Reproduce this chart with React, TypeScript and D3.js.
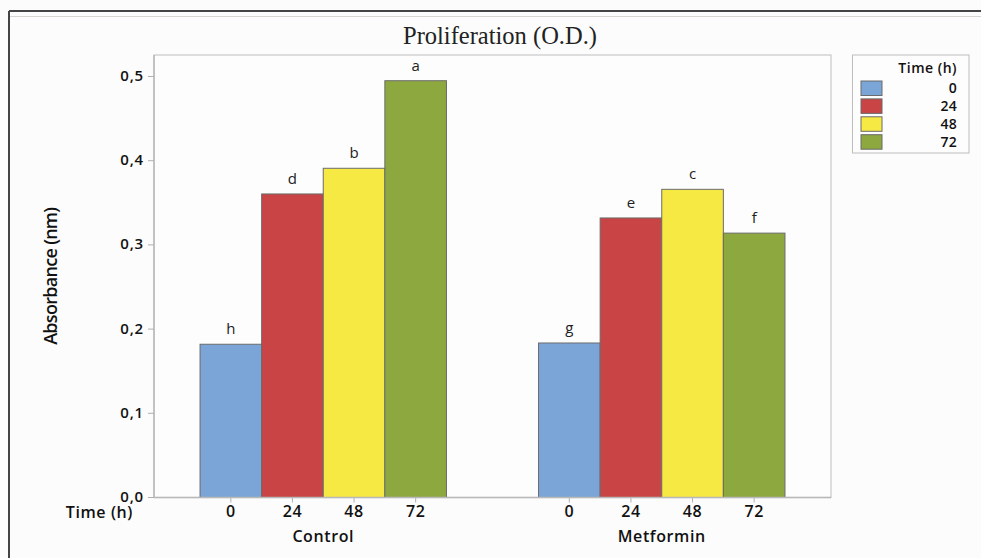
import React from "react";
import * as d3 from "d3";

const groups = ["Control", "Metformin"];
const times = ["0", "24", "48", "72"];
const controlValues = [0.182, 0.3605, 0.391, 0.495];
const metforminValues = [0.1835, 0.332, 0.366, 0.314];
const controlLetters = ["h", "d", "b", "a"];
const metforminLetters = ["g", "e", "c", "f"];
const yTicks = [0, 0.1, 0.2, 0.3, 0.4, 0.5];
const colors = ["#7BA4D7", "#C94444", "#F7E944", "#8CA83E"];

const W = 981;
const H = 558;
const plot = { left: 154, right: 831, top: 55, bottom: 497.5 };
const sansFont = "'Open Sans', 'Noto Sans', sans-serif";

export default function App() {
  const values = [controlValues, metforminValues];
  const letters = [controlLetters, metforminLetters];

  const x0 = d3
    .scaleBand<string>()
    .domain(groups)
    .range([plot.left, plot.right])
    .paddingInner(0.272)
    .paddingOuter(0.136);
  const x1 = d3.scaleBand<string>().domain(times).range([0, x0.bandwidth()]).padding(0);
  const y = d3.scaleLinear().domain([0, 0.5]).range([plot.bottom, plot.bottom - 421]);
  const fmt = (v: number) => d3.format(".1f")(v).replace(".", ",");

  return (
    <svg
      width={W}
      height={H}
      style={{ position: "absolute", left: 0, top: 0, background: "#fcfcfc" }}
    >
      <rect x={0} y={0} width={W} height={H} fill="#fcfcfc" />
      {/* outer frame */}
      <line x1={9} y1={11} x2={W} y2={11} stroke="#444" strokeWidth={2} />
      <line x1={9} y1={11} x2={9} y2={H} stroke="#444" strokeWidth={2} />
      <line x1={10} y1={16.5} x2={W} y2={16.5} stroke="#d8d4d0" strokeWidth={1} />

      {/* title */}
      <text
        x={500}
        y={44}
        textAnchor="middle"
        fontFamily="'Liberation Serif', 'Times New Roman', serif"
        fontSize={24.5}
        fill="#222"
      >
        Proliferation (O.D.)
      </text>

      {/* plot frame */}
      <rect
        x={plot.left}
        y={plot.top}
        width={plot.right - plot.left}
        height={plot.bottom - plot.top}
        fill="#fdfdfd"
        stroke="#c8c8c8"
        strokeWidth={1.2}
      />

      {/* bars */}
      {groups.map((g, gi) => (
        <g key={g} transform={`translate(${x0(g)},0)`}>
          {times.map((t, ti) => {
            const v = values[gi][ti];
            const bx = x1(t)!;
            return (
              <g key={t}>
                <rect
                  x={bx}
                  y={y(v)}
                  width={x1.bandwidth()}
                  height={y(0) - y(v)}
                  fill={colors[ti]}
                  stroke="#6b6b6b"
                  strokeWidth={1}
                />
                <text
                  x={bx + x1.bandwidth() / 2}
                  y={y(v) - 10}
                  textAnchor="middle"
                  fontFamily={sansFont}
                  fontSize={15}
                  fill="#222"
                >
                  {letters[gi][ti]}
                </text>
                <line
                  x1={bx + x1.bandwidth() / 2}
                  x2={bx + x1.bandwidth() / 2}
                  y1={plot.bottom}
                  y2={plot.bottom + 5}
                  stroke="#b0b0b0"
                />
                <text
                  x={bx + x1.bandwidth() / 2}
                  y={plot.bottom + 19.5}
                  textAnchor="middle"
                  fontFamily={sansFont}
                  fontWeight={600}
                  fontSize={16}
                  letterSpacing={0.6}
                  fill="#111"
                >
                  {t}
                </text>
              </g>
            );
          })}
          <text
            x={x0.bandwidth() / 2}
            y={plot.bottom + 44}
            textAnchor="middle"
            fontFamily={sansFont}
            fontWeight={600}
            fontSize={16}
            letterSpacing={0.6}
            fill="#111"
          >
            {g}
          </text>
        </g>
      ))}

      {/* y axis */}
      <line x1={plot.left} x2={plot.left} y1={plot.top} y2={plot.bottom} stroke="#b8b8b8" strokeWidth={1.5} />
      <line x1={plot.left} x2={plot.right} y1={plot.bottom} y2={plot.bottom} stroke="#b8b8b8" strokeWidth={1.5} />
      {yTicks.map((t) => (
        <g key={t}>
          <line x1={plot.left - 6} x2={plot.left} y1={y(t)} y2={y(t)} stroke="#b0b0b0" />
          <text
            x={plot.left - 10}
            y={y(t) + 4.5}
            textAnchor="end"
            fontFamily={sansFont}
            fontWeight={600}
            fontSize={15}
            letterSpacing={0.8}
            fill="#111"
          >
            {fmt(t)}
          </text>
        </g>
      ))}
      <text
        transform={`translate(57,${(plot.top + plot.bottom) / 2}) rotate(-90)`}
        textAnchor="middle"
        fontFamily={sansFont}
        fontWeight={600}
        fontSize={18}
        letterSpacing={-0.7}
        fill="#111"
      >
        Absorbance (nm)
      </text>
      <text
        x={133}
        y={plot.bottom + 20}
        textAnchor="end"
        fontFamily={sansFont}
        fontWeight={600}
        fontSize={16}
        letterSpacing={0.6}
        fill="#111"
      >
        Time (h)
      </text>

      {/* legend */}
      <rect x={852.5} y={55} width={116.5} height={98} fill="#fdfdfd" stroke="#bdbdbd" strokeWidth={1} />
      <text
        x={957}
        y={73}
        textAnchor="end"
        fontFamily={sansFont}
        fontWeight={600}
        fontSize={14}
        letterSpacing={0.5}
        fill="#111"
      >
        Time (h)
      </text>
      {times.map((t, i) => (
        <g key={t}>
          <rect
            x={861}
            y={81 + i * 17.9}
            width={21}
            height={14.5}
            fill={colors[i]}
            stroke="#6b6b6b"
            strokeWidth={1}
          />
          <text
            x={957}
            y={93 + i * 17.9}
            textAnchor="end"
            fontFamily={sansFont}
            fontWeight={600}
            fontSize={14}
            letterSpacing={0.3}
            fill="#111"
          >
            {t}
          </text>
        </g>
      ))}
    </svg>
  );
}
